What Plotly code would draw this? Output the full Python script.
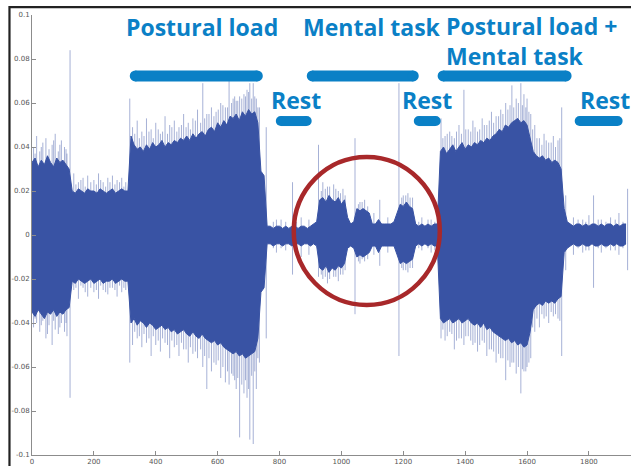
import plotly.graph_objects as go

# ---------------- data (values in units of 0.001) ----------------
X_STEP = 10
core_hi = [
    33, 35, 31, 34, 32, 36, 33, 31, 35, 33, 34, 32,            # 0-110
    30,                                                        # 120
    20, 19, 21, 20, 19, 21, 20, 20, 19, 21, 20, 19, 20, 21, 19, 20, 21, 20,  # 130-300
    20,                                                        # 310
    45, 41, 39, 40, 38, 41, 39, 42, 40, 41, 43, 40, 42, 41, 43, 42, 44, 43, 45, 43,
    46, 44, 46, 47, 45, 48, 49, 47, 51, 49, 52, 50, 54, 53, 55, 52, 56, 54, 57, 55,
    56, 51, 29,                                                # 320-740
    27, 4,                                                     # 750-760
    4, 3, 4, 4, 3, 4, 3, 4, 4, 3, 4, 4, 3, 4, 5,               # 770-910
    6, 16, 17, 15, 18, 16, 15, 17, 14, 16, 8,                  # 920-1020
    5, 6, 12, 11, 12, 11, 10, 5, 5, 7, 5, 5, 5, 5, 6,          # 1030-1170
    10, 14, 13, 15, 13, 12, 5, 4, 5, 4, 5, 4, 5, 5,            # 1180-1310
    38, 40, 37, 39, 41, 38, 40, 42, 39, 41, 40, 42, 41, 43, 42, 44, 43, 45, 46, 48,
    47, 50, 49, 51, 52, 53, 51, 52, 50, 44, 38, 36, 35, 36, 34, 35, 33, 34, 33, 30,
    12, 6,                                                     # 1320-1730
    5, 4, 5, 5, 4, 5, 4, 5, 5, 4, 5, 4, 5, 5, 4, 5, 4, 5, 5,   # 1740-1920
]
core_lo = [
    -35, -37, -34, -36, -38, -35, -36, -34, -37, -35, -36, -34,
    -33,
    -21, -22, -20, -21, -22, -21, -20, -22, -21, -20, -22, -21, -21, -20, -22, -21, -20, -21,
    -21,
    -40, -38, -41, -39, -40, -42, -40, -41, -43, -42, -41, -43, -42, -44, -43, -45, -44, -43, -45, -46,
    -44, -46, -47, -45, -47, -48, -49, -48, -50, -49, -51, -52, -53, -54, -53, -55, -54, -56, -55, -54,
    -53, -47, -26,
    -24, -4,
    -4, -5, -4, -4, -5, -4, -4, -5, -4, -4, -5, -4, -4, -5, -4,
    -5, -15, -16, -14, -17, -15, -16, -14, -15, -13, -6,
    -5, -6, -10, -9, -10, -9, -8, -5, -5, -8, -5, -5, -5, -5, -5,
    -9, -13, -12, -13, -12, -11, -5, -4, -5, -4, -5, -4, -5, -5,
    -38, -40, -39, -38, -40, -39, -38, -40, -39, -38, -40, -41, -40, -42, -40, -43, -42, -44, -45, -46,
    -47, -48, -47, -49, -48, -50, -49, -51, -50, -44, -34, -32, -31, -32, -30, -31, -30, -31, -29, -28,
    -8, -6,
    -5, -4, -5, -5, -4, -5, -5, -4, -5, -5, -4, -5, -5, -4, -5, -4, -5, -5, -4,
]
# tall individual spikes: x position, peak high, peak low (units of 0.001)
spike_x = [5, 15, 25, 35, 45, 55, 65, 75, 85, 95, 105, 113, 123,
           135, 150, 165, 180, 200, 215, 230, 245, 260, 275, 290, 303,
           316, 325, 340, 355, 370, 385, 400, 415, 430, 445, 460, 475, 490, 505, 520, 535,
           552, 565, 580, 595, 610, 625, 637, 650, 660, 671, 685, 695, 704, 715, 725, 735, 757,
           790, 820, 842, 870, 895,
           926, 940, 955, 975, 990, 1005, 1044, 1060, 1075, 1105, 1124, 1150, 1186, 1200, 1215, 1230, 1260, 1290,
           1322, 1335, 1350, 1365, 1380, 1396, 1410, 1425, 1440, 1455, 1470, 1485, 1500, 1515,
           1531, 1545, 1551, 1565, 1580, 1590, 1600, 1612, 1625, 1640, 1655, 1670, 1685, 1700, 1712, 1725,
           1750, 1780, 1800, 1815, 1840, 1870, 1897, 1925]
spike_hi = [40, 45, 38, 42, 44, 39, 41, 46, 38, 43, 40, 37, 84,
            28, 24, 26, 27, 25, 28, 24, 26, 27, 25, 26, 24,
            62, 49, 52, 47, 53, 48, 51, 46, 54, 50, 52, 49, 55, 51, 53, 57,
            69, 55, 58, 56, 60, 58, 72, 62, 61, 63, 64, 66, 69, 69, 62, 58, 49,
            7, 6, 24, 8, 7,
            41, 24, 22, 23, 20, 21, 44, 15, 16, 10, 16, 8, 69, 18, 19, 17, 8, 7,
            53, 45, 47, 44, 50, 66, 48, 52, 47, 53, 50, 56, 54, 57,
            60, 59, 68, 62, 69, 64, 62, 55, 50, 44, 46, 42, 45, 43, 58, 18,
            8, 7, 9, 18, 7, 8, 10, 21]
spike_lo = [-42, -40, -44, -39, -47, -41, -50, -43, -45, -40, -44, -46, -74,
            -25, -29, -24, -28, -26, -29, -25, -27, -24, -28, -26, -25,
            -58, -50, -47, -51, -49, -55, -50, -53, -49, -56, -51, -55, -52, -58, -54, -56,
            -60, -70, -62, -59, -65, -67, -68, -64, -70, -92, -72, -74, -93, -95, -70, -58, -47,
            -8, -7, -18, -10, -9,
            -19, -20, -22, -19, -21, -18, -36, -13, -12, -9, -14, -8, -55, -16, -17, -15, -7, -8,
            -47, -48, -44, -52, -47, -50, -46, -50, -53, -48, -55, -52, -58, -56,
            -66, -60, -58, -63, -72, -62, -60, -56, -44, -42, -38, -40, -37, -38, -55, -16,
            -9, -8, -7, -24, -8, -7, -9, -16]
# shorter spikes fringing the dense band
fuzz_x = [10, 30, 50, 70, 90, 110,
          142, 158, 172, 190, 208, 222, 238, 252, 268, 283, 297,
          332, 347, 362, 378, 392, 408, 422, 438, 452, 468, 483, 498, 512, 528, 545, 558, 572, 588,
          602, 617, 632, 645, 655, 665, 678, 690, 700, 710, 720, 730,
          780, 805, 855,
          935, 948, 962, 982, 997, 1012, 1055, 1067, 1085, 1195, 1208, 1222,
          1250, 1280, 1302,
          1328, 1342, 1357, 1372, 1388, 1402, 1418, 1432, 1447, 1462, 1478, 1492, 1508, 1522,
          1538, 1557, 1572, 1585, 1596, 1606, 1618, 1632, 1648, 1662, 1678, 1692, 1706,
          1765, 1790, 1830, 1855, 1885, 1910]
fuzz_hi = [37, 40, 36, 43, 41, 39,
           23, 25, 22, 24, 23, 25, 22, 24, 23, 24, 22,
           46, 44, 45, 47, 44, 48, 47, 46, 49, 47, 50, 49, 48, 52, 51, 53, 55, 54,
           57, 59, 58, 60, 63, 61, 62, 63, 65, 62, 63, 58,
           6, 7, 6,
           20, 21, 22, 21, 19, 18, 14, 15, 13, 17, 18, 17,
           6, 7, 6,
           44, 46, 45, 47, 46, 48, 47, 49, 48, 50, 52, 51, 54, 55,
           57, 58, 60, 59, 58, 56, 48, 44, 41, 43, 42, 40, 44,
           7, 6, 7, 6, 7, 6]
fuzz_lo = [-38, -41, -45, -39, -42, -40,
           -24, -23, -26, -24, -25, -23, -26, -24, -25, -23, -24,
           -44, -46, -45, -47, -46, -48, -47, -50, -48, -50, -49, -52, -51, -53, -52, -55, -56, -58,
           -57, -60, -62, -63, -66, -65, -68, -66, -70, -64, -62, -56,
           -6, -6, -7,
           -18, -19, -20, -19, -18, -16, -12, -11, -11, -15, -16, -15,
           -6, -6, -7,
           -43, -46, -45, -48, -47, -46, -48, -49, -50, -49, -52, -53, -54, -56,
           -57, -58, -60, -61, -62, -58, -42, -38, -36, -37, -35, -36, -39,
           -6, -7, -6, -6, -7, -6]

# condition intervals (x units) and labels
cond_main = [(316, 746), (888, 1250), (1311, 1744)]
cond_rest = [(788, 904), (1234, 1321), (1754, 1909)]

y_ticks = [0.1, 0.08, 0.06, 0.04, 0.02, 0, -0.02, -0.04, -0.06, -0.08, -0.1]
y_tick_text = ["0.1", "0.08", "0.06", "0.04", "0.02", "0", "-0.02", "-0.04", "-0.06", "-0.08", "-0.1"]
x_ticks = [0, 200, 400, 600, 800, 1000, 1200, 1400, 1600, 1800]

# ---------------- figure ----------------
SIG = "#3953a4"
SPK = "rgba(57,83,164,0.45)"
LBL = "#0a80c6"

xs = [i * X_STEP for i in range(len(core_hi))]
hi = [v / 1000 for v in core_hi]
lo = [v / 1000 for v in core_lo]

sx, sy = [], []
for x, h, l in zip(spike_x + fuzz_x, spike_hi + fuzz_hi, spike_lo + fuzz_lo):
    sx += [x, x, None]
    sy += [l / 1000, h / 1000, None]

fig = go.Figure()
fig.add_trace(go.Scatter(x=sx, y=sy, mode="lines", line=dict(color=SPK, width=1),
                         hoverinfo="skip", showlegend=False))
fig.add_trace(go.Scatter(x=xs, y=lo, mode="lines", line=dict(color=SIG, width=1),
                         hoverinfo="skip", showlegend=False))
fig.add_trace(go.Scatter(x=xs, y=hi, mode="lines", line=dict(color=SIG, width=1),
                         fill="tonexty", fillcolor=SIG, hoverinfo="skip", showlegend=False))

shapes = []
PX_PER_X = 0.3094


def rounded_bar(x0, x1, yc, h):
    r = h / 2
    shapes.append(dict(type="rect", xref="x", yref="y", xsizemode="scaled", ysizemode="pixel",
                       yanchor=yc, x0=x0 + r / PX_PER_X, x1=x1 - r / PX_PER_X, y0=-r, y1=r,
                       fillcolor=LBL, line=dict(width=0)))
    for xe in (x0 + r / PX_PER_X, x1 - r / PX_PER_X):
        shapes.append(dict(type="circle", xref="x", yref="y", xsizemode="pixel", ysizemode="pixel",
                           xanchor=xe, yanchor=yc, x0=-r, x1=r, y0=-r, y1=r,
                           fillcolor=LBL, line=dict(width=0)))


for a, b in cond_main:
    rounded_bar(a, b, 0.0723, 11)
for a, b in cond_rest:
    rounded_bar(a, b, 0.0518, 10)

# red highlight circle
shapes.append(dict(type="circle", xref="x", yref="y", x0=846, x1=1318, y0=-0.0318, y1=0.0355,
                   line=dict(color="#a8282a", width=4.5)))
# image frame (top and left edges visible)
shapes.append(dict(type="rect", xref="paper", yref="paper", x0=-0.0376, x1=1.2, y0=-0.2, y1=1.018,
                   line=dict(color="#222222", width=2.2), fillcolor="rgba(0,0,0,0)", layer="above"))

ann_font = dict(family="'Open Sans', sans-serif", size=23, color=LBL)
labels = [
    ("<b>Postural load</b>", 550, 0.0945, "center"),
    ("<b>Mental task</b>", 1100, 0.0945, "center"),
    ("<b>Rest</b>", 854, 0.0614, "center"),
    ("<b>Rest</b>", 1277, 0.0614, "center"),
    ("<b>Rest</b>", 1851, 0.0614, "center"),
]
annotations = [dict(text=t, x=x, y=y, xref="x", yref="y", showarrow=False, font=ann_font,
                    xanchor=xa, yanchor="middle") for t, x, y, xa in labels]
annotations.append(dict(text="<b>Postural load +</b><br><b>Mental task</b>", x=1333, y=0.0884,
                        xref="x", yref="y", showarrow=False, font=ann_font, align="left",
                        xanchor="left", yanchor="middle"))

fig.update_layout(
    width=631, height=466,
    margin=dict(l=32, r=0, t=15, b=11),
    paper_bgcolor="white", plot_bgcolor="white",
    shapes=shapes, annotations=annotations,
    showlegend=False,
)
tick_font = dict(family="DejaVu Sans, sans-serif", size=7, color="#555555")
fig.update_xaxes(range=[0, 1936], showgrid=False, zeroline=False, showline=True, linecolor="#8c8c8c",
                 linewidth=1, ticks="inside", ticklen=4, tickcolor="#8c8c8c", tickvals=x_ticks,
                 tickfont=tick_font, automargin=False)
fig.update_yaxes(range=[-0.1, 0.1], showgrid=False, zeroline=False, showline=True, linecolor="#8c8c8c",
                 linewidth=1, ticks="inside", ticklen=4, tickcolor="#8c8c8c", tickvals=y_ticks,
                 ticktext=y_tick_text, tickfont=tick_font, automargin=False)

fig.write_html("out.html", config={"displayModeBar": False},
               post_script="document.body.style.margin='0';")
